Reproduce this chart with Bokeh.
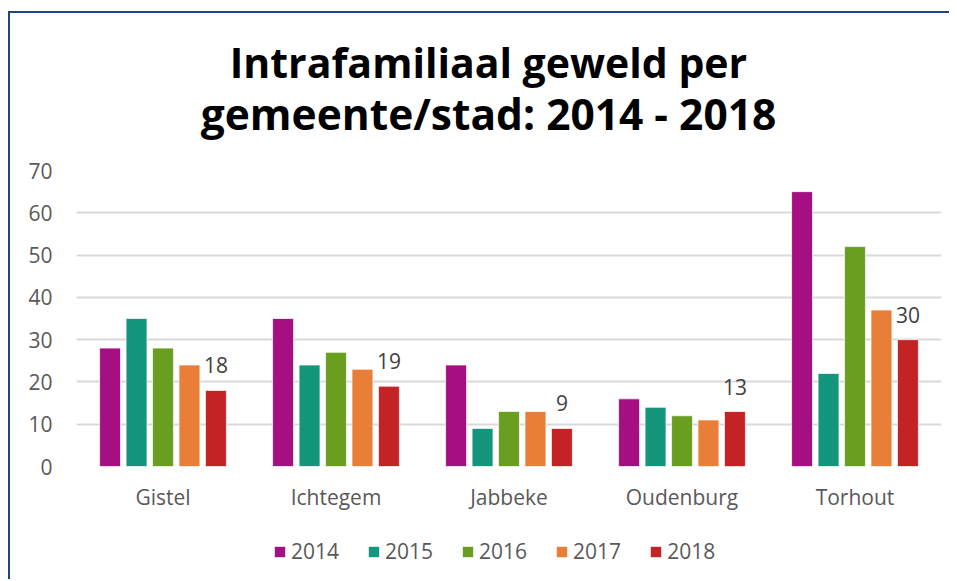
from bokeh.plotting import figure
from bokeh.models import ColumnDataSource, FactorRange, Legend, LegendItem, Label, Range1d
from bokeh.layouts import column
from bokeh.transform import dodge
from bokeh.core.properties import value
from bokeh.embed import file_html
from bokeh.resources import INLINE

gemeenten = ["Gistel", "Ichtegem", "Jabbeke", "Oudenburg", "Torhout"]
jaren = ["2014", "2015", "2016", "2017", "2018"]
v2014 = [28, 35, 24, 16, 65]
v2015 = [35, 24, 9, 14, 22]
v2016 = [28, 27, 13, 12, 52]
v2017 = [24, 23, 13, 11, 37]
v2018 = [18, 19, 9, 13, 30]
kleuren = ["#A50F82", "#14967C", "#6A9E20", "#E87E38", "#C42325"]
y_ticks = [0, 10, 20, 30, 40, 50, 60, 70]
titel = ["Intrafamiliaal geweld per", "gemeente/stad: 2014 - 2018"]

src = ColumnDataSource(dict(g=gemeenten, v2014=v2014, v2015=v2015, v2016=v2016,
                            v2017=v2017, v2018=v2018,
                            lab=[str(v) for v in v2018]))

FONT = "Open Sans"
GREY = "#595959"
W = 939
cols = ["v2014", "v2015", "v2016", "v2017", "v2018"]


def blank(height, x_range=None):
    f = figure(width=W, height=height,
               x_range=x_range if x_range is not None else Range1d(0, 1),
               y_range=Range1d(0, 1),
               output_backend="svg", toolbar_location=None,
               min_border=0, min_border_left=0, min_border_right=0,
               min_border_top=0, min_border_bottom=0)
    f.xaxis.visible = False
    f.yaxis.visible = False
    f.xgrid.visible = False
    f.ygrid.visible = False
    f.outline_line_color = None
    return f


# ---- title figure ----
pt = blank(137)
for txt, yb, fs in zip(titel, [89, 37], ["41px", "42.5px"]):
    pt.add_layout(Label(x=412, y=yb, x_units="screen", y_units="screen", text=txt,
                        text_align="center", text_baseline="alphabetic",
                        text_font=FONT, text_font_size=fs,
                        text_font_style="bold", text_color="#000000"))

# ---- main chart ----
p = figure(x_range=FactorRange(*gemeenten), y_range=Range1d(0, 70),
           width=W, height=370, output_backend="svg", toolbar_location=None,
           min_border_left=66, min_border_right=8, min_border_top=20,
           min_border_bottom=54)

step = 0.153
bw = 0.121
for i, (c, col) in enumerate(zip(cols, kleuren)):
    p.vbar(x=dodge("g", (i - 2) * step, range=p.x_range), top=c, width=bw,
           source=src, fill_color=col, line_color="white", line_alpha=0.7,
           line_width=1)

p.text(x=dodge("g", 2 * step, range=p.x_range), y="v2018", text="lab", source=src,
       text_align="center", text_baseline="bottom", y_offset=-17,
       text_font=value(FONT), text_font_size="21px", text_color="#404040")

p.xaxis.axis_line_color = None
p.xaxis.major_tick_line_color = None
p.xaxis.minor_tick_line_color = None
p.xaxis.major_label_text_font = FONT
p.xaxis.major_label_text_font_size = "21px"
p.xaxis.major_label_text_color = GREY
p.xaxis.major_label_standoff = 10
p.xaxis.major_label_text_font_style = "normal"

p.yaxis.axis_line_color = None
p.yaxis.major_tick_line_color = None
p.yaxis.minor_tick_line_color = None
p.yaxis.ticker = y_ticks
p.yaxis.major_label_text_font = FONT
p.yaxis.major_label_text_font_size = "21px"
p.yaxis.major_label_text_color = GREY
p.yaxis.major_label_standoff = 18

p.xgrid.grid_line_color = None
p.ygrid.grid_line_color = "#D9D9D9"
p.ygrid.grid_line_width = 2
p.ygrid.ticker = y_ticks
p.outline_line_color = None

# ---- legend figure (hidden copies of the series feed the legend swatches) ----
pl = blank(59, x_range=FactorRange(*gemeenten))
leg_r = []
for c, col in zip(cols, kleuren):
    leg_r.append(pl.vbar(x="g", top=c, width=0.1, source=src, fill_color=col,
                         line_color=None, visible=False))
legend = Legend(items=[LegendItem(label=j, renderers=[r]) for j, r in zip(jaren, leg_r)],
                orientation="horizontal", location=(197, 14),
                label_text_font=FONT, label_text_font_size="21px",
                label_text_color=GREY, glyph_width=13, glyph_height=13,
                label_standoff=5, spacing=28, border_line_color=None,
                background_fill_alpha=0, margin=0, padding=0)
pl.add_layout(legend, "center")

layout = column(pt, p, pl, spacing=0, margin=(11, 0, 0, 8))
layout.styles = {"border-top": "2px solid #1F4580", "border-left": "2px solid #1F4580"}

open("out.html", "w").write(file_html(layout, INLINE))
